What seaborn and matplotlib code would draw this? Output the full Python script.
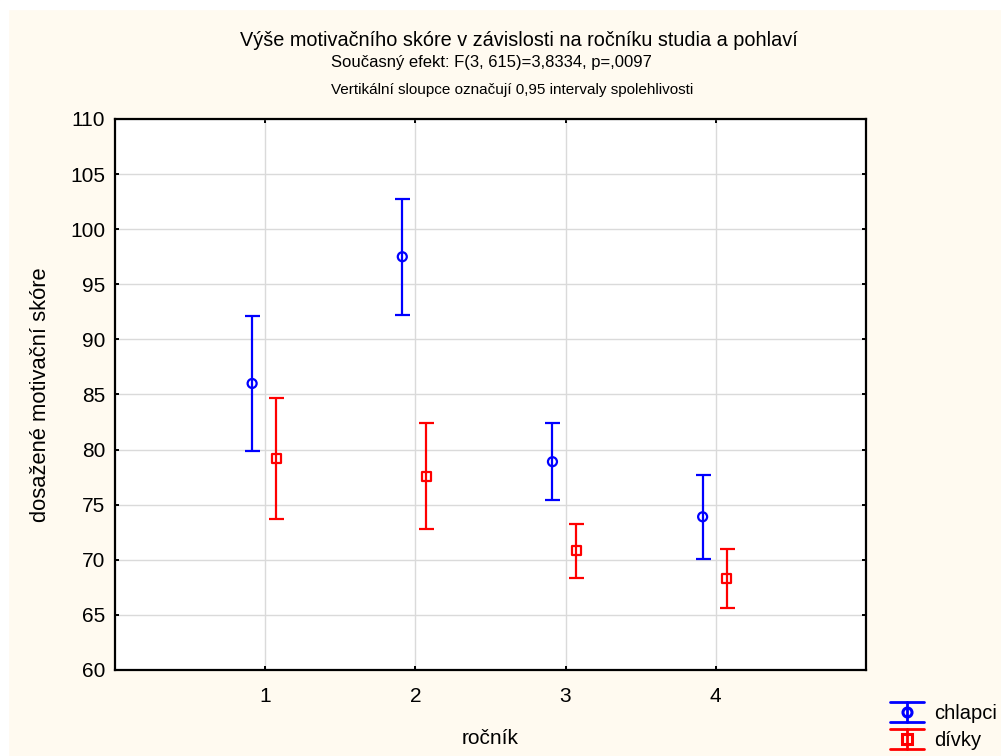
import numpy as np
import pandas as pd
import matplotlib
matplotlib.use("Agg")
import matplotlib.pyplot as plt
import seaborn as sns
from matplotlib.legend_handler import HandlerBase
from matplotlib.lines import Line2D
from matplotlib.patches import Rectangle

# Group means and 0.95 confidence half-widths per year of study
rocnik = [1, 2, 3, 4]
chlapci_mean = [86.0, 97.5, 78.9, 73.9]
chlapci_ci = [6.1, 5.25, 3.5, 3.8]
divky_mean = [79.2, 77.6, 70.8, 68.3]
divky_ci = [5.5, 4.8, 2.45, 2.65]
yticks = [60, 65, 70, 75, 80, 85, 90, 95, 100, 105, 110]

df = pd.concat([
    pd.DataFrame({"rocnik": rocnik, "skore": chlapci_mean, "ci": chlapci_ci, "pohlavi": "chlapci"}),
    pd.DataFrame({"rocnik": rocnik, "skore": divky_mean, "ci": divky_ci, "pohlavi": "dívky"}),
], ignore_index=True)

sns.set_style("white")
plt.rcParams["font.family"] = ["Liberation Sans", "DejaVu Sans"]
plt.rcParams["text.color"] = "black"
plt.rcParams["axes.labelcolor"] = "black"

bg = "#FFFAF0"
fig = plt.figure(figsize=(10.01, 7.56), dpi=100, facecolor=bg)
# thin white margin along the top and left edges
fig.patches.append(Rectangle((0, 0), 0.008, 1, transform=fig.transFigure, color="white", zorder=-10))
fig.patches.append(Rectangle((0, 0.988), 1, 0.012, transform=fig.transFigure, color="white", zorder=-10))

ax = fig.add_axes([0.1149, 0.1138, 0.7501, 0.7288])
ax.set_facecolor("white")

styles = {
    "chlapci": dict(color="#0000FF", marker="o", shift=-0.087),
    "dívky": dict(color="#FF0000", marker="s", shift=0.073),
}

for name, st in styles.items():
    sub = df[df["pohlavi"] == name]
    xs = sub["rocnik"].to_numpy() + st["shift"]
    ax.errorbar(xs, sub["skore"], yerr=sub["ci"], fmt="none", ecolor=st["color"],
                elinewidth=1.6, capsize=5.4, capthick=1.6, zorder=3)
    sns.scatterplot(x=xs, y=sub["skore"].to_numpy(), ax=ax, marker=st["marker"], s=42,
                    facecolor="none", edgecolor=st["color"], linewidth=1.6, zorder=4)

ax.set_xlim(0, 5)
ax.set_ylim(60, 110)
ax.set_xticks(rocnik)
ax.set_yticks(yticks)
ax.grid(True, color="#DADADA", linewidth=1.0)
ax.set_axisbelow(True)
for sp in ax.spines.values():
    sp.set_visible(True)
    sp.set_color("black")
    sp.set_linewidth(1.6)
ax.tick_params(direction="in", length=3, width=1.4, labelsize=15, colors="black",
               left=True, right=True, bottom=True, top=True)
ax.tick_params(axis="x", pad=12)
ax.tick_params(axis="y", pad=7)

ax.set_xlabel("ročník", fontsize=15, labelpad=17)
ax.set_ylabel("dosažené motivační skóre", fontsize=15.8, labelpad=14)

fig.text(0.5185, 0.947, "Výše motivačního skóre v závislosti na ročníku studia a pohlaví",
         ha="center", va="center", fontsize=14.3)
fig.text(0.4905, 0.917, "Současný efekt: F(3, 615)=3,8334, p=,0097",
         ha="center", va="center", fontsize=12)
fig.text(0.5115, 0.881, "Vertikální sloupce označují 0,95 intervaly spolehlivosti",
         ha="center", va="center", fontsize=11)


class HandlerCI(HandlerBase):
    def __init__(self, color, marker):
        super().__init__()
        self.color = color
        self.marker = marker

    def create_artists(self, legend, orig_handle, xdescent, ydescent, width, height,
                       fontsize, trans):
        x0, x1 = -xdescent, -xdescent + width
        y0, y1 = -ydescent, -ydescent + height
        xm, ym = (x0 + x1) / 2, (y0 + y1) / 2
        kw = dict(color=self.color, linewidth=2.0, transform=trans)
        top = Line2D([x0, x1], [y1, y1], **kw)
        bot = Line2D([x0, x1], [y0, y0], **kw)
        mid = Line2D([xm, xm], [y0, y1], **kw)
        mk = Line2D([xm], [ym], marker=self.marker, markersize=6.5, markerfacecolor="none",
                    markeredgecolor=self.color, markeredgewidth=2.2, linestyle="none",
                    transform=trans)
        return [top, bot, mid, mk]


h1 = Line2D([], [])
h2 = Line2D([], [])
fig.legend([h1, h2], ["chlapci", "dívky"],
           handler_map={h1: HandlerCI("#0000FF", "o"), h2: HandlerCI("#FF0000", "s")},
           loc="lower left", bbox_to_anchor=(0.889, 0.008), frameon=False,
           fontsize=14.5, handlelength=1.7, handleheight=1.15, handletextpad=0.5,
           labelspacing=0.3, borderpad=0.0, borderaxespad=0.0)

fig.savefig("out.png", dpi=100, facecolor=bg)
